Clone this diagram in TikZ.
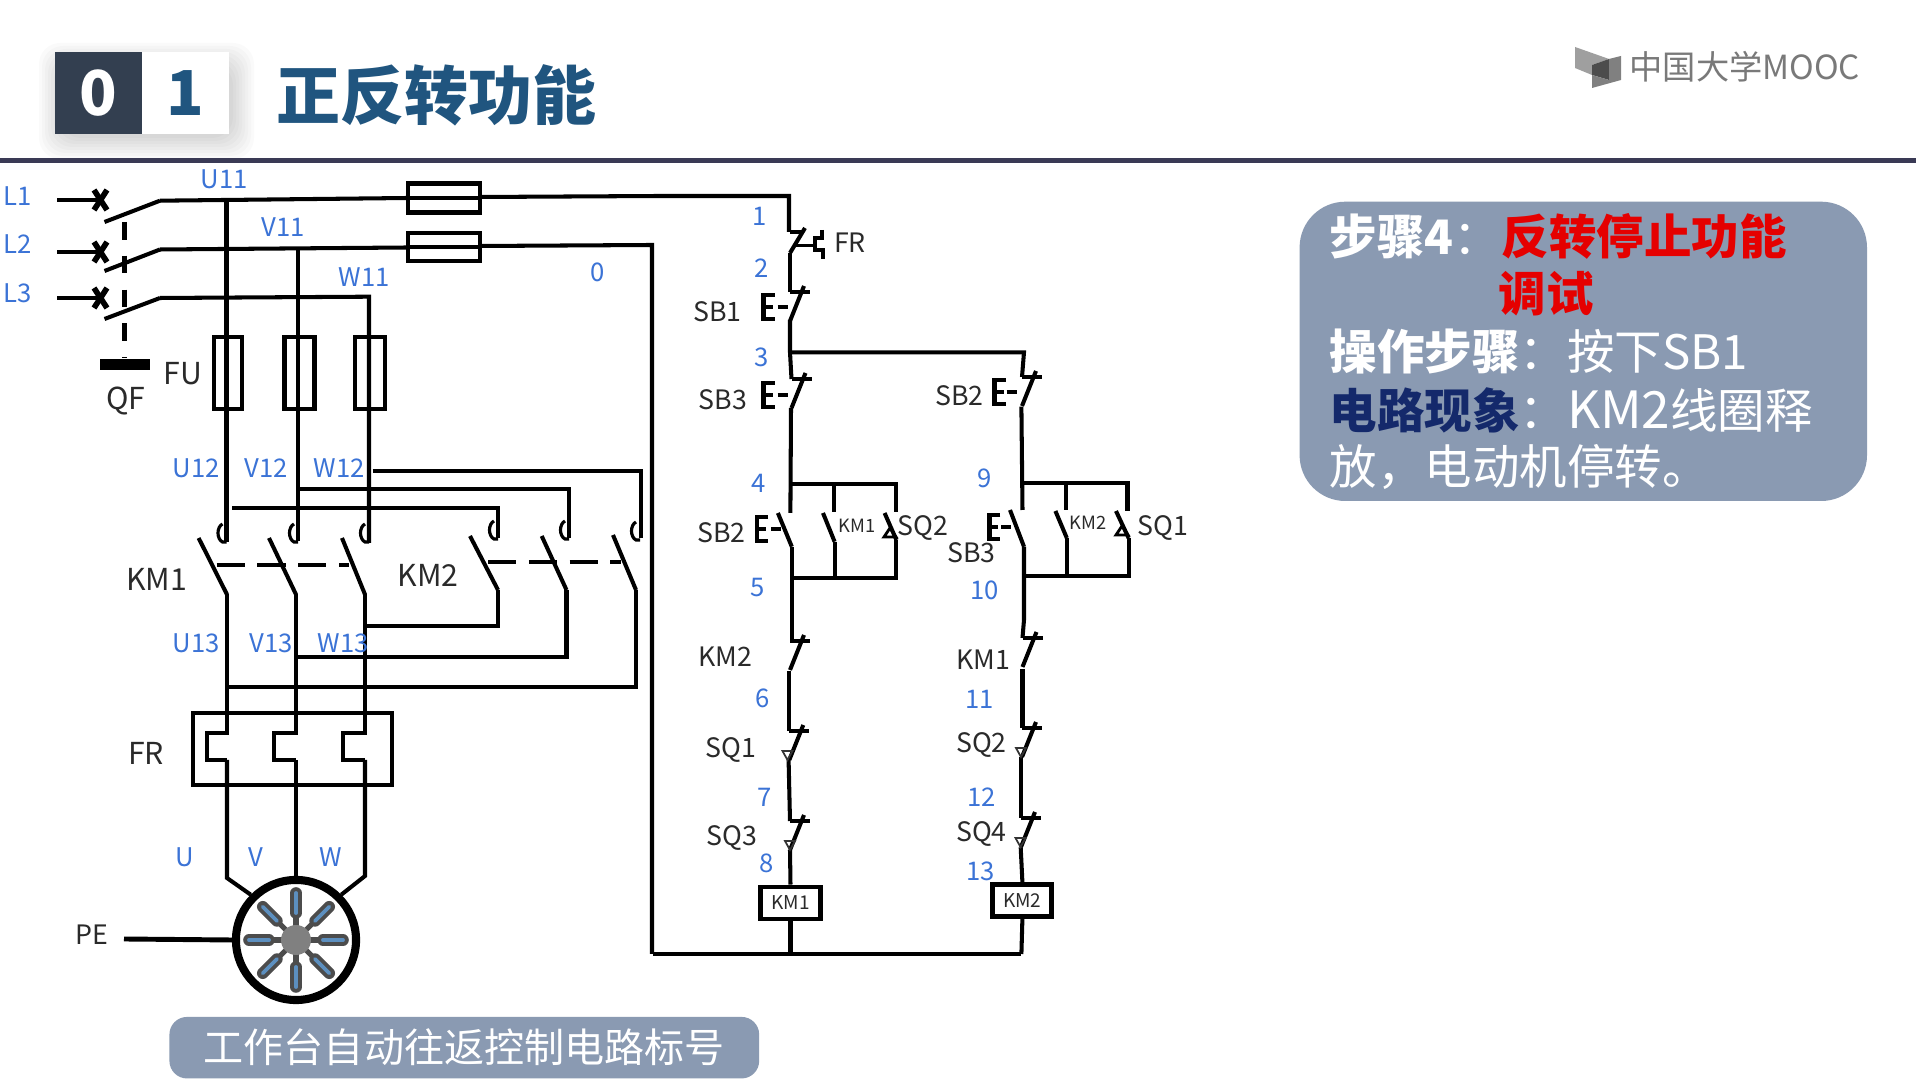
\documentclass[tikz,border=0pt]{standalone}
\usepackage{fontspec}
\setmainfont{Noto Sans CJK SC}
\newfontfamily\heavyfont{Noto Sans CJK SC Black}
\definecolor{labblue}{HTML}{3B73D6}
\definecolor{tagblack}{HTML}{2A2A2A}
\definecolor{headline}{HTML}{3A3A55}
\definecolor{panelgray}{HTML}{8A9AB2}
\definecolor{titleblue}{HTML}{20557F}
\definecolor{badgedark}{HTML}{333F50}
\definecolor{navytext}{HTML}{14296B}
\definecolor{fanblue}{HTML}{5C8FBF}
\newcommand{\fsz}[1]{\fontsize{#1}{#1}\selectfont}
\tikzset{
 wire/.style={line width=1.15pt,black},
 lab/.style={text=labblue,font=\fsz{7.3}},
 tag/.style={text=tagblack,font=\fsz{7.6}},
 bigtag/.style={text=tagblack,font=\fsz{8.6}},
 smalltag/.style={text=tagblack,font=\fsz{5.2}},
 boxnode/.style={draw=black,line width=1.15pt,inner sep=0pt},
 paneltext/.style={anchor=west,inner sep=0pt,text=white,font=\fsz{13.5}},
}
\begin{document}
\begin{tikzpicture}[x=0.01cm,y=-0.01cm]
\useasboundingbox (0,0) rectangle (1920,1080);
\fill[white] (0,0) rectangle (1920,1080);

% title
\foreach \s in {0,3,...,21}
 \fill[black,opacity=0.02,rounded corners=6pt] (60-\s,64-\s) rectangle (233+\s,138+\s);
\node[fill=badgedark,text=white,minimum width=0.87cm,minimum height=0.826cm,inner sep=0pt,font=\fsz{17.6}\bfseries] (d0) at (98.2,93) {0};
\node[fill=white,text=titleblue,minimum width=0.876cm,minimum height=0.826cm,inner sep=0pt,font=\fsz{17.6}\bfseries] (d1) at (185.6,93) {1};
\node[anchor=west,inner sep=0pt,text=titleblue,font=\fsz{18.2}\heavyfont] (title) at (276,95) {正反转功能};
\fill[headline] (0,158) rectangle (1916,163);

% logo
\fill[gray!75] (1575,47) -- (1609,59) -- (1592,65) -- (1592,75) -- (1575,68) -- cycle;
\fill[gray!60!black] (1592,65) -- (1609,59) -- (1609,80) -- (1592,75) -- cycle;
\fill[gray] (1609,59) -- (1621,56) -- (1621,80) -- (1592,88) -- (1592,75) -- (1609,80) -- cycle;
\node[anchor=west,inner sep=0pt,text=gray!95!black,font=\fsz{9.45}] (logo) at (1629,66.5) {中国大学MOOC};

% three phase feed
\foreach \y/\a/\b in {200/222/200.7,252/271/249.5,298/319/298}{
 \draw[line width=1.3pt] (57,\y) -- (101,\y);
 \draw[line width=1.6pt] (94,\y-10) -- (107,\y+10);
 \draw[line width=1.6pt] (107,\y-10) -- (94,\y+10);
 \draw[wire] (104.5,\a) -- (160,\b);
}
\draw[line width=1.3pt,dash pattern=on 5pt off 4.6pt] (124.6,222) -- (124.6,358);
\fill[black] (100,359) rectangle (149.5,370.5);
\draw[wire] (160,200.7) -- (408,198);
\draw[wire] (480,197) -- (660,196) -- (789,196) -- (789,232);
\draw[wire] (160,249.5) -- (408,247.5);
\draw[wire] (480,246) -- (652,245) -- (652,954);
\draw[wire] (160,298) -- (369,296.7) -- (369,543);
\draw[wire] (226.5,200.7) -- (226.5,542);
\draw[wire] (298,248) -- (298,541);
\node[boxnode,minimum width=0.72cm,minimum height=0.29cm] (fuA) at (444,198) {};
\node[boxnode,minimum width=0.72cm,minimum height=0.28cm] (fuB) at (444,247) {};
\draw[wire] (fuA.west) -- (fuA.east);
\draw[wire] (fuB.west) -- (fuB.east);
\node[boxnode,minimum width=0.28cm,minimum height=0.72cm] (fuU) at (228,373) {};
\node[boxnode,minimum width=0.30cm,minimum height=0.72cm] (fuV) at (299.5,373) {};
\node[boxnode,minimum width=0.30cm,minimum height=0.72cm] (fuW) at (370,373) {};

% km2 feed
\draw[wire] (372.5,471) -- (640.6,471) -- (640.6,538);
\draw[wire] (298,489) -- (569,489) -- (569,538);
\draw[wire] (232,508) -- (498,508) -- (498,538);

% main contacts
\foreach \x/\y in {226.5/533,298/533,369/533,498/530,569/530,640/531}
 \draw[line width=0.9pt] (\x-4,\y-9) .. controls (\x-10,\y-6) and (\x-10,\y+6) .. (\x-4,\y+9) -- (\x,\y+9);
\foreach \a/\b/\c in {198.6/538/227,269/538/296,342/538/365}
 \draw[wire] (\a,\b) -- (\c,594.5);
\foreach \a/\b/\c in {470/536/498,541.7/536/566.5,613/535/636}
 \draw[wire] (\a,\b) -- (\c,590);
\draw[wire,dash pattern=on 8pt off 3.6pt] (216.7,565) -- (349,565);
\draw[wire,dash pattern=on 8pt off 3.6pt] (488,562) -- (621,562);
\draw[wire] (498,590) -- (498,626) -- (367,626);
\draw[wire] (566.5,590) -- (566.5,657) -- (296,657);
\draw[wire] (636,590) -- (636,687) -- (227,687);

% thermal relay
\node[boxnode,minimum width=1.99cm,minimum height=0.72cm] (frbox) at (292.4,749) {};
\foreach \x/\s in {227/207,296/274.4,365/343.4}{
 \draw[wire] (\x,594.5) -- (\x,733) -- (\s,733) -- (\s,760) -- (\x,760);
}
\node[circle,draw=black,line width=2.3pt,minimum size=1.2cm,inner sep=0pt] (motor) at (296,940) {};
\draw[wire] (227,760) -- (227,878) -- (motor.135);
\draw[wire] (296,760) -- (motor.north);
\draw[wire] (365,760) -- (365,876) -- (motor.45);
\coordinate (peend) at (124,939);
\draw[line width=1.4pt] (peend) -- (motor.west);
\foreach \a in {0,45,...,315}{
 \draw[shift={(296,940)},line width=1.5pt,gray!60!black] (\a:10) -- (\a:25);
 \draw[shift={(296,940)},line width=3.3pt,line cap=round,gray!60!black] (\a:27) -- (\a:47);
 \draw[shift={(296,940)},line width=1.1pt,line cap=round,fanblue] (\a:27) -- (\a:47);
}
\fill[gray] (296,940) circle (15);

% control circuit left
\draw[wire] (790,232) -- (803,232);
\draw[wire] (805,228) -- (790,253);
\draw[line width=0.8pt] (795,245.7) -- (815,245.7);
\draw[wire] (821.7,230) -- (821.7,238) -- (815,238) -- (815,250) -- (823,250) -- (823,259);
\draw[wire] (790,253) -- (790,292);
\draw[wire] (790,320) -- (790,352.3) -- (791.5,379);
\draw[wire] (790,352.3) -- (1024,352.3) -- (1022,377);
\draw[wire] (791,408) -- (790.4,513);
\draw[wire] (790.4,484.3) -- (895.7,484.3) -- (895.7,512);
\draw[wire] (833.9,484.3) -- (833.9,512);
\draw[wire] (791.8,546.7) -- (791.8,641);
\draw[wire] (834.6,541.7) -- (834.6,578);
\draw[wire] (896.4,540) -- (896.4,578) -- (791.8,578);
\draw[wire] (823,513) -- (834.6,541.7);
\draw[wire] (884.6,513) -- (896.4,540);
\draw[wire] (777.9,513) -- (791.8,546.7);
\draw[wire] (789.3,670.7) -- (789.3,731);
\draw[wire] (788.6,760) -- (790,821);
\node[boxnode,line width=1.4pt,minimum width=0.6cm,minimum height=0.32cm,font=\fsz{5.4},text=tagblack] (coilA) at (790.5,903) {KM1};
\draw[wire] (790,850) -- (coilA.north);
\draw[wire] (coilA.south) -- (790.5,954);

% control circuit right
\draw[wire] (1021.4,406.7) -- (1022.5,510);
\draw[wire] (1022.5,482.7) -- (1127.5,482.7) -- (1127.5,511);
\draw[wire] (1066,482.7) -- (1066,510);
\draw[wire] (1010,510) -- (1024,546.7);
\draw[wire] (1055.4,511) -- (1066.8,538);
\draw[wire] (1116,511) -- (1128.6,538);
\draw[wire] (1024,546.7) -- (1024,620) -- (1022.5,638);
\draw[wire] (1066.8,538) -- (1066.8,576);
\draw[wire] (1128.6,538) -- (1128.6,576) -- (1024,576);
\draw[wire] (1022.5,669) -- (1022.5,728);
\draw[wire] (1021.4,757) -- (1021.4,818);
\node[boxnode,line width=1.4pt,minimum width=0.59cm,minimum height=0.32cm,font=\fsz{5.4},text=tagblack] (coilB) at (1022.4,900.5) {KM2};
\draw[wire] (1020.7,847.3) -- (coilB.north);
\draw[wire] (coilB.south) -- (1021.4,954);
\draw[wire] (653,954) -- (1021.4,954);

% closed contacts
\foreach \x/\y in {790/292,791.5/379,1022/377,790/641,1022.5/638,789.3/731,1022/728,790/821,1021/818}{
 \draw[wire] (\x,\y) -- +(20,0);
 \draw[wire] (\x+14,\y-6) -- (\x,\y+29);
}
% push buttons
\foreach \x/\y/\d in {763.6/295/14,763.6/383/14,994.6/380/12,757/517/14,989.3/515/12}{
 \draw[line width=1.3pt] (\x+11,\y) -- (\x,\y) -- (\x,\y+24) -- (\x+11,\y+24);
 \draw[line width=1.1pt] (\x,\y+12) -- (\x+9,\y+12);
 \draw[line width=0.9pt] (\x+\d,\y+12) -- (\x+\d+10,\y+12);
}
% limit switch marks
\foreach \x/\y in {787.5/751,790/841,1021/748,1020.5/838}
 \draw[line width=0.5pt,gray!40!black] (\x-5,\y) -- (\x+5,\y) -- (\x,\y+9) -- cycle;
\foreach \x/\y in {890/537,1122/535}
 \draw[line width=0.8pt] (\x-6,\y) -- (\x+6,\y) -- (\x,\y-9) -- cycle;

% blue labels
\foreach \n/\x/\y in {L1/17.7/196,L2/17.7/244,L3/17.7/293,U11/224/179,V11/283/227,W11/364.5/277,U12/196/468,V12/266/468,W12/339/468,U13/196/643,V13/271.5/643,W13/343/643,U/185/857,V/256/857,W/331/857,0/597.6/272,1/760/216,2/761.8/268,3/761.8/357,4/759/483,5/758/588,6/762.5/698,7/765/797,8/767/863,9/985/478,10/984.6/590,11/979.6/699,12/981.4/797,13/980.4/871}
 \node[lab] (n\n) at (\x,\y) {\n};
% black labels
\node[bigtag] (tQF) at (126,401) {QF};
\node[bigtag] (tFU) at (183,374) {FU};
\node[bigtag] (tKMa) at (156.6,579) {KM1};
\node[bigtag] (tKMb) at (428,575) {KM2};
\node[bigtag] (tFRm) at (146,753.7) {FR};
\node[tag] (tPE) at (92,935) {PE};
\node[tag] (tFR) at (850,242.3) {FR};
\node[tag] (tSBa) at (717.5,311.5) {SB1};
\node[tag] (tSBc) at (723,400) {SB3};
\node[tag] (tSBb) at (959.5,395.5) {SB2};
\node[tag] (tSBd) at (721.4,532.5) {SB2};
\node[tag] (tSQb) at (923,528) {SQ2};
\node[tag] (tSBe) at (971.4,552.5) {SB3};
\node[tag] (tSQa) at (1163,528) {SQ1};
\node[smalltag] (tKc) at (857,525.7) {KM1};
\node[smalltag] (tKd) at (1088,523) {KM2};
\node[tag] (tKe) at (725,656.7) {KM2};
\node[tag] (tKf) at (983,660) {KM1};
\node[tag] (tSQc) at (731,750) {SQ1};
\node[tag] (tSQd) at (981.4,745) {SQ2};
\node[tag] (tSQe) at (731.8,837.5) {SQ3};
\node[tag] (tSQf) at (981.4,834) {SQ4};

% caption
\node[fill=panelgray,rounded corners=5pt,minimum width=5.894cm,minimum height=0.615cm,inner sep=0pt,text=white,font=\fsz{11.4}] (caption) at (464.3,1047.7) {工作台自动往返控制电路标号};

% step panel
\fill[panelgray,rounded corners=13pt] (1299.6,201.7) rectangle (1867,501);
\node[paneltext] (stepa) at (1329,236) {\bfseries 步骤4\mdseries ：};
\node[paneltext,text=red!90!black] (stepb) at (1501,236) {\bfseries 反转停止功能};
\node[paneltext,text=red!90!black] (stepc) at (1498,294) {\bfseries 调试};
\node[paneltext] (stepd) at (1329,352) {\bfseries 操作步骤\mdseries ：按下SB1};
\node[paneltext] (stepe) at (1329,410) {{\bfseries\color{navytext}电路现象}：{\fsz{14.6}KM2}线圈释};
\node[paneltext] (stepf) at (1329,467) {放，电动机停转。};
\end{tikzpicture}
\end{document}
